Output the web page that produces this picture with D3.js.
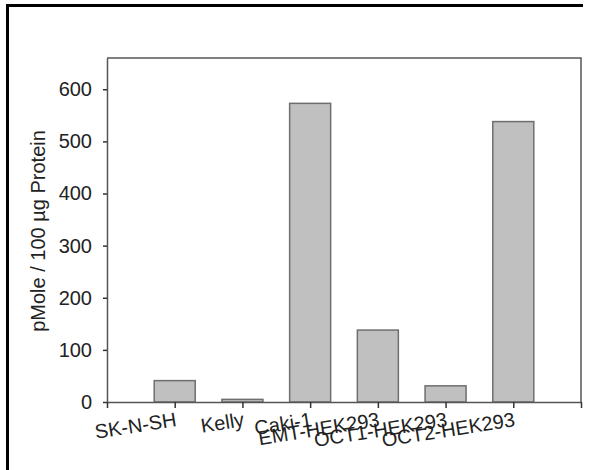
<!DOCTYPE html>
<html>
<head>
<meta charset="utf-8">
<script src="https://cdn.jsdelivr.net/npm/d3@7"></script>
<style>
  body { margin: 0; background: #fff; }
  text { font-family: "Liberation Sans", Arial, sans-serif; fill: #222; }
</style>
</head>
<body>
<div id="graph"></div>
<script>
var cells = ["SK-N-SH", "Kelly", "Caki-1", "EMT-HEK293", "OCT1-HEK293", "OCT2-HEK293"]
var uptake = [41, 5, 573, 138, 31, 538]
var yTicks = [0, 100, 200, 300, 400, 500, 600]

var W = 592, H = 470
var margin = {top: 58, right: 11, bottom: 68, left: 107}
var width = W - margin.left - margin.right,
  height = H - margin.top - margin.bottom
var fs = '20px'

var svg = d3.select('#graph').append('svg')
  .attr('width', W).attr('height', H)

// outer frame (only left and top show in the picture)
svg.append('path')
  .attr('d', 'M7.5,470 L7.5,5.5 L583,5.5')
  .attr('fill', 'none').attr('stroke', '#000').attr('stroke-width', 3)

var g = svg.append('g')
  .attr('transform', 'translate(' + margin.left + ',' + margin.top + ')')

var x = d3.scaleLinear().domain([0, cells.length + 1]).range([0, width])
var y = d3.scaleLinear().domain([0, 660]).range([height, 0])
var barW = 41

// plot box: top and right edges
g.append('path')
  .attr('d', 'M0,0 L' + width + ',0 L' + width + ',' + height)
  .attr('fill', 'none').attr('stroke', '#555').attr('stroke-width', 1.5)

g.selectAll('.bar')
  .data(uptake)
  .enter().append('rect')
  .attr('class', 'bar')
  .attr('x', function(d, i) { return x(i + 1) - barW / 2 })
  .attr('width', barW)
  .attr('y', function(d) { return y(d) })
  .attr('height', function(d) { return height - y(d) })
  .attr('fill', '#c0c0c0')
  .attr('stroke', '#6e6e6e')
  .attr('stroke-width', 1.5)

// x axis
var xAxis = g.append('g')
  .attr('transform', 'translate(0,' + height + ')')
  .call(d3.axisBottom(x)
    .tickValues(d3.range(0, cells.length + 2))
    .tickSize(6)
    .tickSizeOuter(0)
    .tickFormat(function(i) { return cells[i - 1] || '' }))
xAxis.select('.domain').attr('stroke', '#555').attr('stroke-width', 1.5)
xAxis.selectAll('.tick line').attr('stroke', '#333').attr('stroke-width', 1.5)
xAxis.selectAll('text')
  .attr('y', 0).attr('dy', 0).attr('x', 0)
  .attr('transform', 'translate(2,24) rotate(-9)')
  .style('text-anchor', 'end')
  .style('font-size', fs)
  .attr('fill', '#222')

// y axis
var yAxis = g.append('g')
  .call(d3.axisLeft(y)
    .tickValues(yTicks)
    .tickSize(4)
    .tickPadding(11)
    .tickSizeOuter(0))
yAxis.select('.domain').attr('stroke', '#555').attr('stroke-width', 1.5)
yAxis.selectAll('.tick line').attr('stroke', '#333').attr('stroke-width', 1.5)
yAxis.selectAll('text')
  .style('font-size', fs)
  .attr('fill', '#222')

svg.append('text')
  .attr('transform', 'translate(45,231) rotate(-90)')
  .style('text-anchor', 'middle')
  .style('font-size', fs)
  .text('pMole / 100 µg Protein')
</script>
</body>
</html>
